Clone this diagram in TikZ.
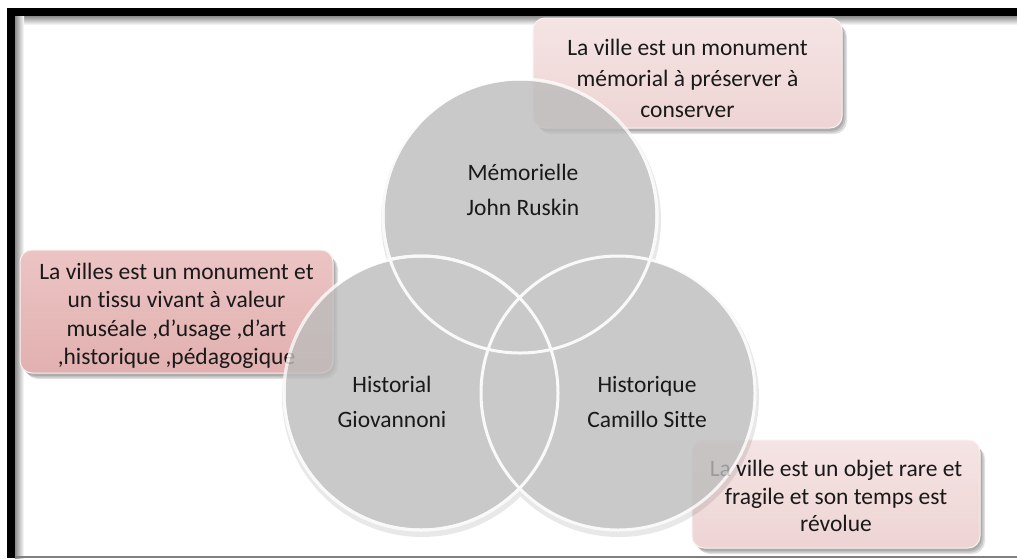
\documentclass[tikz,border=0pt]{standalone}
\usepackage{fontspec}
\setmainfont{Carlito}[Ligatures=NoCommon]
\definecolor{circfill}{RGB}{193,193,193}
\definecolor{lightTop}{RGB}{245,228,228}
\definecolor{lightBot}{RGB}{238,212,212}
\definecolor{darkTop}{RGB}{236,196,196}
\definecolor{darkBot}{RGB}{226,176,176}
\definecolor{boxedge}{RGB}{250,240,240}
\begin{document}
\begin{tikzpicture}[x=1pt,y=-1pt,
  boxshape/.style={rectangle, rounded corners=12pt, draw=boxedge, line width=1pt},
  lightbox/.style={boxshape, top color=lightTop, bottom color=lightBot},
  darkbox/.style={boxshape, top color=darkTop, bottom color=darkBot},
  boxtext/.style={align=center, text=black!90, inner sep=0pt},
  boxshadow/.style={fill=black, opacity=0.12, rounded corners=13pt},
  venn/.style={circle, minimum size=274pt, inner sep=0pt, fill=circfill, draw=white, line width=3pt},
  venntext/.style={align=center, font=\fontsize{23.5}{35}\selectfont, text=black!90},
]
\useasboundingbox (0,0) rectangle (1017,558);
\fill[white] (0,0) rectangle (1017,558);
% frame
\shade[top color=black!45, bottom color=white] (15,16) rectangle (1017,25);
\shade[left color=black!45, right color=white] (15,16) rectangle (24,558);
\fill[black] (7,8) rectangle (1017,16);
\fill[black] (7,8) rectangle (15,558);
\draw[black!50, line width=1.2pt] (15,557) -- (1017,557);
% box shadows
\foreach \d in {0,1.5,3}{
  \fill[boxshadow] (533+2+\d,18+3+\d) rectangle (842+2+\d,128+3+\d);
  \fill[boxshadow] (20+2+\d,250+3+\d) rectangle (333+2+\d,373+3+\d);
  \fill[boxshadow] (692+2+\d,440+3+\d) rectangle (980+2+\d,548+3+\d);
}
% boxes
\node[lightbox, minimum width=309pt, minimum height=110pt] (b1) at (687.5,73) {};
\node[darkbox, minimum width=313pt, minimum height=123pt] (b2) at (176.5,311.5) {};
\node[lightbox, minimum width=288pt, minimum height=108pt] (b3) at (836,494) {};
\node[boxtext, font=\fontsize{23.5}{31}\selectfont] (x1) at (687.5,78.5)
  {La ville est un monument\\mémorial à préserver à\\conserver};
\node[boxtext, font=\fontsize{23.5}{28.5}\selectfont] (x2) at (176.5,316)
  {La villes est un monument et\\un tissu vivant à valeur\\muséale ,d’usage ,d’art\\,historique ,pédagogique};
\node[boxtext, font=\fontsize{23.5}{27.5}\selectfont] (x3) at (836,496)
  {La ville est un objet rare et\\fragile et son temps est\\révolue};
% circle shadows
\begin{scope}[transparency group, opacity=0.09]
  \foreach \p in {(520,216),(421,393),(618,393)}{
    \fill[black] \p ++(1,4) circle (140pt);
  }
\end{scope}
% circles
\begin{scope}[transparency group, opacity=0.78]
  \node[venn] (c1) at (520,216) {};
  \node[venn] (c2) at (421,393) {};
  \node[venn] (c3) at (618,393) {};
  \draw[white, line width=3pt] (c1.center) circle (137pt);
  \draw[white, line width=3pt] (c2.center) circle (137pt);
\end{scope}
% circle texts
\node[venntext] (t1) at (523,190) {Mémorielle\\John Ruskin};
\node[venntext] (t2) at (392,402) {Historial\\Giovannoni};
\node[venntext] (t3) at (647,402) {Historique\\Camillo Sitte};
\end{tikzpicture}
\end{document}
